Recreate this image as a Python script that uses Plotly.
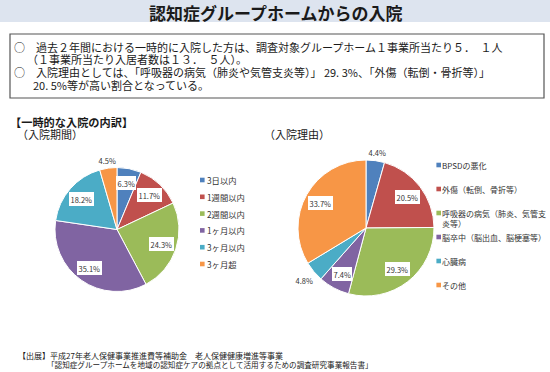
import math
import plotly.graph_objects as go

W, H = 550, 372
FONT = "Noto Sans CJK JP"

# ---------------- data ----------------
duration_labels = ["3日以内", "1週間以内", "2週間以内", "1ヶ月以内", "3ヶ月以内", "3ヶ月超"]
duration_values = [6.3, 11.7, 24.3, 35.1, 18.2, 4.5]

reason_labels = ["BPSDの悪化", "外傷（転倒、骨折等）", "呼吸器の病気（肺炎、気管支<br>炎等）",
                 "脳卒中（脳出血、脳梗塞等）", "心臓病", "その他"]
reason_values = [4.4, 20.5, 29.3, 7.4, 4.8, 33.7]

slice_colors = ["#4F81BD", "#C0504D", "#9BBB59", "#8064A2", "#4BACC6", "#F79646"]

title_text = "認知症グループホームからの入院"
summary_lines = [
    "○　過去２年間における一時的に入院した方は、調査対象グループホーム１事業所当たり５．　１人",
    "（１事業所当たり入居者数は１３．　５人）。",
    "○　入院理由としては、「呼吸器の病気（肺炎や気管支炎等）」 29. 3%、「外傷（転倒・骨折等）」",
    "20. 5%等が高い割合となっている。",
]
section_title = "【一時的な入院の内訳】"
left_subtitle = "（入院期間）"
right_subtitle = "（入院理由）"
source_lines = [
    "【出展】平成27年老人保健事業推進費等補助金　老人保健健康増進等事業",
    "「認知症グループホームを地域の認知症ケアの拠点として活用するための調査研究事業報告書」",
]


# ---------------- helpers ----------------
def px(x):
    return x / W


def py(y):
    return 1 - y / H


def domain(cx, cy, r):
    return dict(x=[px(cx - r), px(cx + r)], y=[py(cy + r), py(cy - r)])


annotations = []
shapes = []


def text(x, y, s, size, bold=False, anchor="left", color="#1a1a1a", yanchor="middle"):
    annotations.append(dict(
        x=px(x), y=py(y), xref="paper", yref="paper", xanchor=anchor, yanchor=yanchor,
        text=f"<b>{s}</b>" if bold else s, showarrow=False, align="left",
        font=dict(family=FONT, size=size, color=color), borderpad=0, borderwidth=0,
    ))


def slice_labels(values, cx, cy, r):
    total = sum(values)
    cum = 0.0
    for v in values:
        theta = 2 * math.pi * (cum + v / 2) / total
        cum += v
        s, c = math.sin(theta), math.cos(theta)
        if v < 5:
            d = r + 3 + abs(s) * 10 + abs(c) * 4
            bg = "rgba(0,0,0,0)"
        else:
            d = 0.76 * r
            bg = "white"
        annotations.append(dict(
            x=px(cx + d * s), y=py(cy - d * c), xref="paper", yref="paper",
            xanchor="center", yanchor="middle", text=f"{v:.1f}%", showarrow=False,
            font=dict(family=FONT, size=7.5, color="#333333"),
            bgcolor=bg, borderpad=1.5, borderwidth=0,
        ))


def legend(labels, colors, mx, tx, y0, step, size):
    for i, (lab, col) in enumerate(zip(labels, colors)):
        y = y0 + i * step
        shapes.append(dict(type="rect", xref="paper", yref="paper",
                           x0=px(mx - 2.3), x1=px(mx + 2.3), y0=py(y + 2.3), y1=py(y - 2.3),
                           fillcolor=col, line=dict(width=0)))
        text(tx, y, lab, size, color="#333333", yanchor="top" if "<br>" in lab else "middle")
        if "<br>" in lab:
            annotations[-1]["y"] = py(y - size * 0.65)


# ---------------- figure ----------------
fig = go.Figure()

L_CX, L_CY, L_R = 117, 229.5, 62
R_CX, R_CY, R_R = 366, 228, 68

fig.add_trace(go.Pie(
    labels=duration_labels, values=duration_values, sort=False, direction="clockwise",
    rotation=0, textinfo="none", showlegend=False, hoverinfo="label+percent",
    marker=dict(colors=slice_colors, line=dict(color="white", width=1)),
    domain=domain(L_CX, L_CY, L_R),
))
fig.add_trace(go.Pie(
    labels=reason_labels, values=reason_values, sort=False, direction="clockwise",
    rotation=0, textinfo="none", showlegend=False, hoverinfo="label+percent",
    marker=dict(colors=slice_colors, line=dict(color="white", width=1)),
    domain=domain(R_CX, R_CY, R_R),
))

slice_labels(duration_values, L_CX, L_CY, L_R)
slice_labels(reason_values, R_CX, R_CY, R_R)

legend(duration_labels, slice_colors, 202.3, 207, 180, 16.8, 8.3)
legend(reason_labels, slice_colors, 438.7, 442, 165, 24, 8)

# title band
shapes.append(dict(type="rect", xref="paper", yref="paper", x0=0, x1=1, y0=py(22), y1=py(0),
                   fillcolor="#dde4ef", line=dict(width=0), layer="below"))
text(275.5, 13, title_text, 17, bold=True, anchor="center", color="#1a1a1a")

# summary box
shapes.append(dict(type="rect", xref="paper", yref="paper", x0=px(10), x1=px(544),
                   y0=py(98), y1=py(34), line=dict(color="#555555", width=1.2)))
for (x, y), s in zip([(13.5, 47), (27, 59.5), (13.5, 72), (33, 85)], summary_lines):
    text(x, y, s, 11)

text(9.5, 122, section_title, 11.2, bold=True)
text(17, 134, left_subtitle, 11)
text(264, 134, right_subtitle, 11)

text(18, 355, source_lines[0], 8)
text(46.5, 364.5, source_lines[1], 7.6)

fig.update_layout(
    width=W, height=H, margin=dict(l=0, r=0, t=0, b=0),
    paper_bgcolor="white", plot_bgcolor="white",
    annotations=annotations, shapes=shapes,
    font=dict(family=FONT),
)

fig.write_html(
    "out.html",
    config={"displayModeBar": False},
    post_script="document.body.style.margin='0';document.body.style.overflow='hidden';",
)
